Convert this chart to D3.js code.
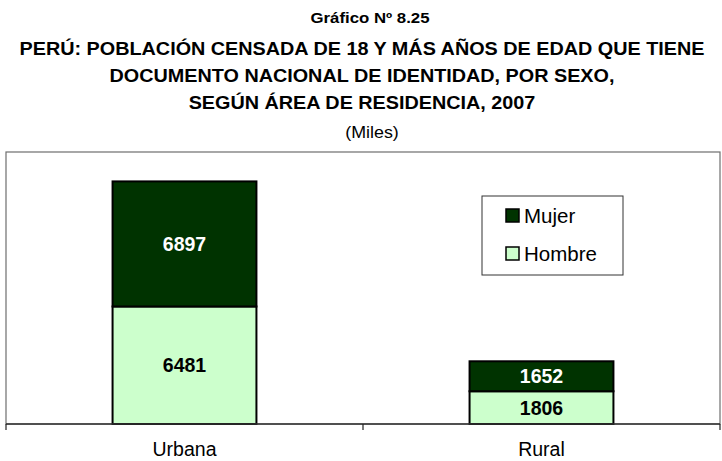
<!DOCTYPE html>
<html><head><meta charset="utf-8">
<script src="https://cdn.jsdelivr.net/npm/d3@7"></script>
<style>
body{margin:0;background:#fff;}
svg{display:block;font-family:"Liberation Sans",Arial,sans-serif;}
</style></head>
<body>
<svg id="chart" width="722" height="461"></svg>
<script>
const categories = ["Urbana", "Rural"];
const seriesNames = ["Hombre", "Mujer"];
const hombre = [6481, 1806];
const mujer = [6897, 1652];
const yDomain = [0, 15000];
const titleLines = [
  "PERÚ: POBLACIÓN CENSADA DE 18 Y MÁS AÑOS DE EDAD QUE TIENE",
  "DOCUMENTO NACIONAL DE IDENTIDAD, POR SEXO,",
  "SEGÚN ÁREA DE RESIDENCIA, 2007"
];
const colors = {Hombre: "#ccffcc", Mujer: "#003300"};
const labelColors = {Hombre: "#000", Mujer: "#fff"};

const svg = d3.select("#chart");
const plot = {left: 6, right: 720, top: 152, bottom: 424};

function stretchedText(cx, cy, txt, size, weight, sx) {
  const g = svg.append("g").attr("transform", `translate(${cx},${cy}) scale(${sx},1)`);
  g.append("text").attr("x", 0).attr("y", 0).attr("text-anchor", "middle")
    .attr("font-weight", weight).attr("font-size", size).text(txt);
}
stretchedText(370, 23, "Gráfico Nº 8.25", 15, "bold", 1.12);
titleLines.forEach((t, i) => stretchedText(362, 55 + i * 27, t, 18, "bold", 1.1));
stretchedText(372, 138, "(Miles)", 17, "normal", 1.05);

// plot area border
svg.append("rect").attr("x", plot.left).attr("y", plot.top)
  .attr("width", plot.right - plot.left).attr("height", plot.bottom - plot.top)
  .attr("fill", "#fff").attr("stroke", "#6e6e6e").attr("stroke-width", 1.2);

const x = d3.scaleBand().domain(categories).range([plot.left, plot.right]).padding(0);
const y = d3.scaleLinear().domain(yDomain).range([plot.bottom, plot.top]);
const barW = x.bandwidth() * 0.403;

const stackData = categories.map((c, i) => ({cat: c, Hombre: hombre[i], Mujer: mujer[i]}));
const stack = d3.stack().keys(seriesNames)(stackData);

stack.forEach(layer => {
  const key = layer.key;
  const g = svg.append("g");
  g.selectAll("rect").data(layer).join("rect")
    .attr("x", d => x(d.data.cat) + x.bandwidth() / 2 - barW / 2)
    .attr("y", d => y(d[1]))
    .attr("width", barW)
    .attr("height", d => y(d[0]) - y(d[1]))
    .attr("fill", colors[key]).attr("stroke", "#000").attr("stroke-width", 2);
  g.selectAll("text").data(layer).join("text")
    .attr("x", d => x(d.data.cat) + x.bandwidth() / 2)
    .attr("y", d => (y(d[0]) + y(d[1])) / 2)
    .attr("dy", "0.36em")
    .attr("text-anchor", "middle").attr("font-weight", "bold").attr("font-size", 19.5)
    .attr("fill", labelColors[key])
    .text(d => d.data[key]);
});

// x axis
const ax = svg.append("g");
ax.append("line").attr("x1", plot.left).attr("x2", plot.right)
  .attr("y1", plot.bottom).attr("y2", plot.bottom).attr("stroke", "#333").attr("stroke-width", 1.5);
const tickXs = categories.map(c => x(c)).concat([x(categories[categories.length - 1]) + x.bandwidth()]);
ax.selectAll("line.tick").data(tickXs).join("line").attr("class", "tick")
  .attr("x1", d => d).attr("x2", d => d).attr("y1", plot.bottom).attr("y2", plot.bottom + 6)
  .attr("stroke", "#222").attr("stroke-width", 1.2);
ax.selectAll("text").data(categories).join("text")
  .attr("x", d => x(d) + x.bandwidth() / 2).attr("y", 456)
  .attr("text-anchor", "middle").attr("font-size", 19.5).text(d => d);

// legend
const lg = svg.append("g");
lg.append("rect").attr("x", 482).attr("y", 196).attr("width", 141).attr("height", 79)
  .attr("fill", "#fff").attr("stroke", "#333").attr("stroke-width", 1);
["Mujer", "Hombre"].forEach((k, i) => {
  lg.append("rect").attr("x", 506).attr("y", 209 + i * 38).attr("width", 13).attr("height", 13)
    .attr("fill", colors[k]).attr("stroke", "#000").attr("stroke-width", 1.5);
  lg.append("text").attr("x", 524).attr("y", 223 + i * 38)
    .attr("font-size", 20.5).text(k);
});
</script>
</body></html>
